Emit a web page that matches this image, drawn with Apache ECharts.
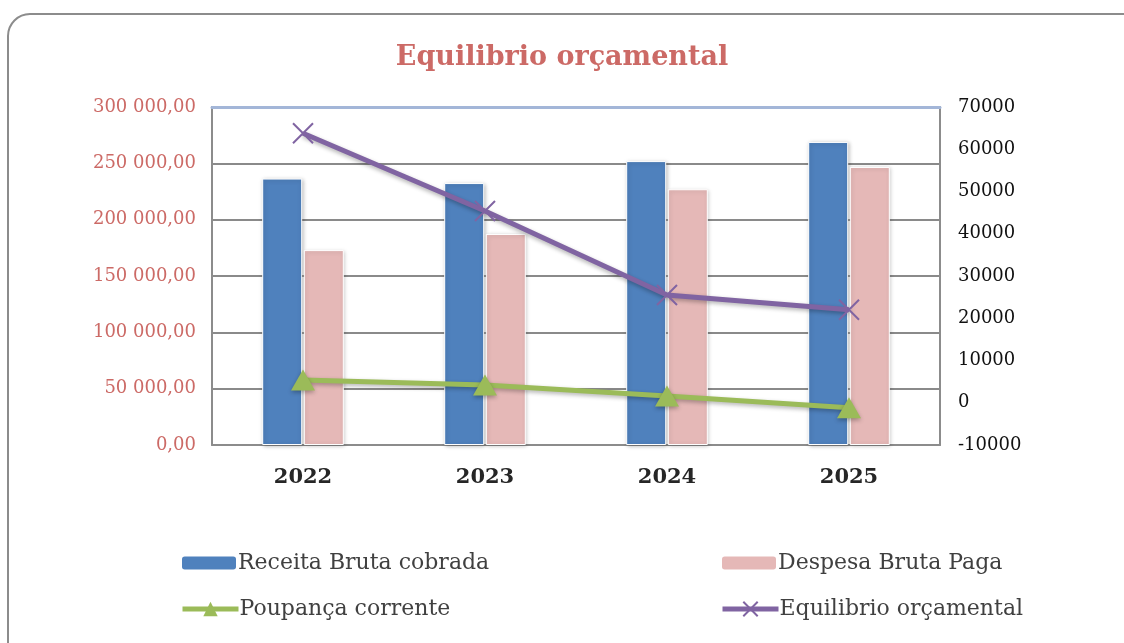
<!DOCTYPE html>
<html>
<head>
<meta charset="utf-8">
<script src="https://cdn.jsdelivr.net/npm/echarts@6/dist/echarts.min.js"></script>
<style>
  html, body { margin: 0; padding: 0; background: #fff; }
  #chart { width: 1124px; height: 643px; }
</style>
</head>
<body>
<div id="chart"></div>
<script>
// dados
var anos = ["2022", "2023", "2024", "2025"];
var receitaBruta = [236500, 232500, 252000, 269000];
var despesaBruta = [173000, 187300, 227000, 246800];
var poupancaCorrente = [5400, 4200, 1600, -1200];
var equilibrioOrcamental = [63800, 45400, 25500, 22000];

var fonte = "'DejaVu Serif', 'Liberation Serif', serif";
var crossPath = "path://M0,0L10,10M10,0L0,10";

function legenda(nome, x, y, h) {
  return {
    data: [nome],
    left: x, top: y,
    itemWidth: 56, itemHeight: h,
    itemGap: 0,
    lineStyle: { width: 5 },
    textStyle: { fontSize: 22, color: "#404040", fontFamily: fonte, padding: [0, 0, 0, -4] }
  };
}

var chart = echarts.init(document.getElementById("chart"));
chart.setOption({
  animation: false,
  textStyle: { fontFamily: fonte },
  graphic: [
    {
      type: "rect",
      shape: { x: 8, y: 14, width: 1140, height: 660, r: 22 },
      style: { fill: "none", stroke: "#8c8c8c", lineWidth: 2 },
      silent: true
    }
  ],
  title: {
    text: "Equilibrio orçamental",
    left: "center",
    top: 39,
    textStyle: { fontFamily: fonte, fontSize: 27, fontWeight: "bold", color: "#cc6a66" }
  },
  grid: { left: 212, right: 184, top: 107, bottom: 198 },
  legend: [
    legenda("Receita Bruta cobrada", 175, 547, 15),
    legenda("Despesa Bruta Paga", 715, 547, 15),
    legenda("Poupança corrente", 175, 593, 18),
    legenda("Equilibrio orçamental", 715, 593, 18)
  ],
  xAxis: [
    {
      type: "category",
      data: anos,
      axisLine: { onZero: false, lineStyle: { color: "#8c8c8c", width: 2 } },
      axisTick: { show: false },
      axisLabel: { fontSize: 21, fontWeight: "bold", color: "#262626", margin: 22, fontFamily: fonte }
    },
    {
      type: "category",
      data: anos,
      position: "top",
      axisLine: { onZero: false, lineStyle: { color: "#a3b6d8", width: 3 } },
      axisTick: { show: false },
      axisLabel: { show: false }
    }
  ],
  yAxis: [
    {
      type: "value",
      min: 0,
      max: 300000,
      interval: 50000,
      axisLine: { show: true, lineStyle: { color: "#8c8c8c", width: 2 } },
      axisTick: { show: false },
      splitLine: { lineStyle: { color: "#8a8a8a", width: 2 } },
      axisLabel: {
        fontSize: 18,
        color: "#cc6a66",
        margin: 16,
        fontFamily: fonte,
        formatter: function (v) {
          var s = String(v).replace(/\B(?=(\d{3})+(?!\d))/g, " ");
          return s + ",00";
        }
      }
    },
    {
      type: "value",
      min: -10000,
      max: 70000,
      interval: 10000,
      position: "right",
      axisLine: { show: true, lineStyle: { color: "#8c8c8c", width: 2 } },
      axisTick: { show: false },
      splitLine: { show: false },
      axisLabel: {
        fontSize: 18, color: "#111", margin: 18, fontFamily: fonte,
        formatter: function (v) { return String(v); }
      }
    }
  ],
  series: [
    {
      name: "Receita Bruta cobrada",
      type: "bar",
      data: receitaBruta,
      barWidth: 40,
      barGap: "4%",
      itemStyle: {
        color: "#4f81bd",
        borderColor: "#fff",
        borderWidth: 1,
        shadowColor: "rgba(0,0,0,0.25)",
        shadowBlur: 4,
        shadowOffsetX: 1,
        shadowOffsetY: 1
      }
    },
    {
      name: "Despesa Bruta Paga",
      type: "bar",
      data: despesaBruta,
      barWidth: 40,
      itemStyle: {
        color: "#e5b8b7",
        borderColor: "#fff",
        borderWidth: 1,
        shadowColor: "rgba(0,0,0,0.2)",
        shadowBlur: 4,
        shadowOffsetX: 1,
        shadowOffsetY: 1
      }
    },
    {
      name: "Poupança corrente",
      type: "line",
      yAxisIndex: 1,
      data: poupancaCorrente,
      symbol: "triangle",
      symbolSize: [24, 21],
      lineStyle: { color: "#9bbb59", width: 5, shadowColor: "rgba(0,0,0,0.3)", shadowBlur: 4, shadowOffsetY: 2 },
      itemStyle: { color: "#9bbb59", shadowColor: "rgba(0,0,0,0.3)", shadowBlur: 4, shadowOffsetY: 2 },
      z: 5
    },
    {
      name: "Equilibrio orçamental",
      type: "line",
      yAxisIndex: 1,
      data: equilibrioOrcamental,
      symbol: crossPath,
      symbolSize: 20,
      lineStyle: { color: "#8064a2", width: 5, shadowColor: "rgba(0,0,0,0.3)", shadowBlur: 4, shadowOffsetY: 2 },
      itemStyle: { color: "#8064a2", borderColor: "#8064a2", borderWidth: 2 },
      z: 5
    }
  ]
});
</script>
</body>
</html>
